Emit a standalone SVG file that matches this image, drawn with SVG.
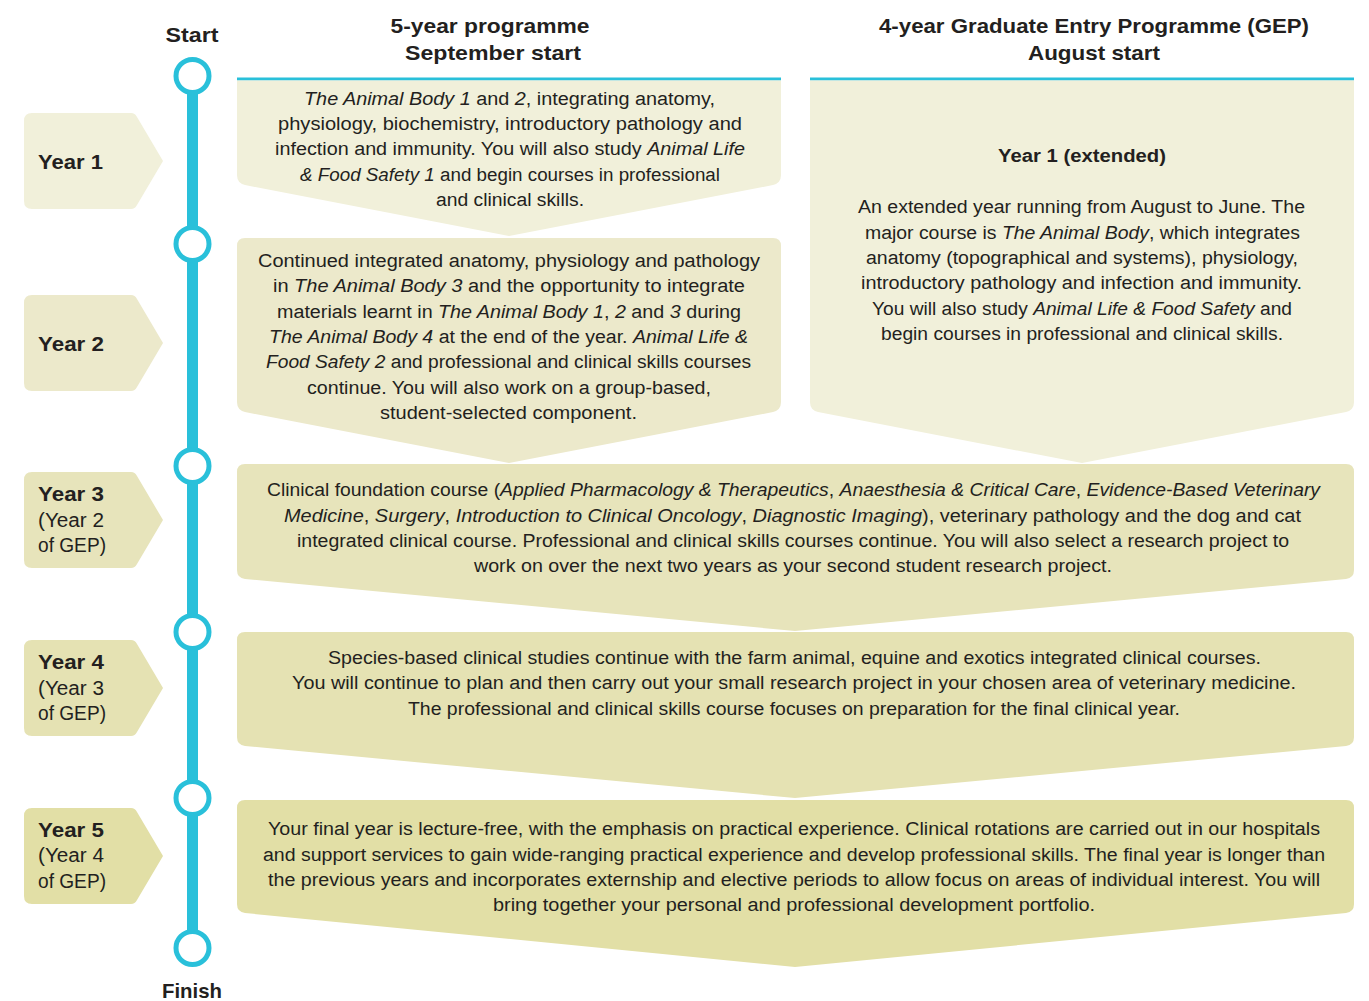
<svg xmlns="http://www.w3.org/2000/svg" width="1369" height="1001" viewBox="0 0 1369 1001">
<style>
text{font-family:"Liberation Sans",Arial,sans-serif;fill:#231f20}
.b{font-size:18px;text-anchor:middle}
.h{font-size:21px;font-weight:bold;text-anchor:middle}
.yl{font-size:20px}
.yb{font-weight:bold}
.i{font-style:italic}
.c{fill:#ffffff;stroke:#29c0da;stroke-width:5}
</style>
<rect width="1369" height="1001" fill="#ffffff"/>
<g id="headers">
<text class="h" x="490" y="33" textLength="199" lengthAdjust="spacingAndGlyphs">5-year programme</text>
<text class="h" x="493" y="60" textLength="176" lengthAdjust="spacingAndGlyphs">September start</text>
<text class="h" x="1094" y="33" textLength="430" lengthAdjust="spacingAndGlyphs">4-year Graduate Entry Programme (GEP)</text>
<text class="h" x="1094" y="60" textLength="132" lengthAdjust="spacingAndGlyphs">August start</text>
<text class="h" x="192" y="42" textLength="53" lengthAdjust="spacingAndGlyphs">Start</text>
<text class="h" x="192" y="998" textLength="60" lengthAdjust="spacingAndGlyphs">Finish</text>
<rect x="237" y="77.5" width="544" height="3" fill="#29c0da"/>
<rect x="810" y="77.5" width="544" height="3" fill="#29c0da"/>
</g>
<g id="timeline">
<rect x="187" y="76" width="11" height="872" fill="#29c0da"/>
<circle class="c" cx="192.5" cy="76" r="16.5"/>
<circle class="c" cx="192.5" cy="244" r="16.5"/>
<circle class="c" cx="192.5" cy="466" r="16.5"/>
<circle class="c" cx="192.5" cy="632" r="16.5"/>
<circle class="c" cx="192.5" cy="798" r="16.5"/>
<circle class="c" cx="192.5" cy="948" r="16.5"/>
</g>
<g id="label-year1">
<path d="M32,113 H131 Q135,113 137,117 L163,161 L137,205 Q135,209 131,209 H32 Q24,209 24,201 V121 Q24,113 32,113 Z" fill="#f1f0da"/>
<text class="yl yb" x="38" y="169" textLength="65" lengthAdjust="spacingAndGlyphs">Year 1</text>
</g>
<g id="label-year2">
<path d="M32,295 H131 Q135,295 137,299 L163,343 L137,387 Q135,391 131,391 H32 Q24,391 24,383 V303 Q24,295 32,295 Z" fill="#ece9cb"/>
<text class="yl yb" x="38" y="351" textLength="66" lengthAdjust="spacingAndGlyphs">Year 2</text>
</g>
<g id="label-year3">
<path d="M32,472 H131 Q135,472 137,476 L163,520 L137,564 Q135,568 131,568 H32 Q24,568 24,560 V480 Q24,472 32,472 Z" fill="#e7e4bb"/>
<text class="yl yb" x="38" y="501" textLength="66" lengthAdjust="spacingAndGlyphs">Year 3</text>
<text class="yl" x="38" y="527" textLength="66" lengthAdjust="spacingAndGlyphs">(Year 2</text>
<text class="yl" x="38" y="552" textLength="68" lengthAdjust="spacingAndGlyphs">of GEP)</text>
</g>
<g id="label-year4">
<path d="M32,640 H131 Q135,640 137,644 L163,688 L137,732 Q135,736 131,736 H32 Q24,736 24,728 V648 Q24,640 32,640 Z" fill="#e5e2b3"/>
<text class="yl yb" x="38" y="669" textLength="66" lengthAdjust="spacingAndGlyphs">Year 4</text>
<text class="yl" x="38" y="695" textLength="66" lengthAdjust="spacingAndGlyphs">(Year 3</text>
<text class="yl" x="38" y="720" textLength="68" lengthAdjust="spacingAndGlyphs">of GEP)</text>
</g>
<g id="label-year5">
<path d="M32,808 H131 Q135,808 137,812 L163,856 L137,900 Q135,904 131,904 H32 Q24,904 24,896 V816 Q24,808 32,808 Z" fill="#e2dfa6"/>
<text class="yl yb" x="38" y="837" textLength="66" lengthAdjust="spacingAndGlyphs">Year 5</text>
<text class="yl" x="38" y="862" textLength="66" lengthAdjust="spacingAndGlyphs">(Year 4</text>
<text class="yl" x="38" y="888" textLength="68" lengthAdjust="spacingAndGlyphs">of GEP)</text>
</g>
<g id="box-year1">
<path d="M237,80.5 H781 V175 Q781,183 773,185 L509,236 L245,185 Q237,183 237,175 Z" fill="#f1f0da"/>
<text class="b" x="509.5" y="105" textLength="411" lengthAdjust="spacingAndGlyphs"><tspan class="i">The Animal Body 1</tspan> and <tspan class="i">2</tspan>, integrating anatomy,</text>
<text class="b" x="510" y="130" textLength="464" lengthAdjust="spacingAndGlyphs">physiology, biochemistry, introductory pathology and</text>
<text class="b" x="510" y="155" textLength="470" lengthAdjust="spacingAndGlyphs">infection and immunity. You will also study <tspan class="i">Animal Life</tspan></text>
<text class="b" x="510" y="181" textLength="420" lengthAdjust="spacingAndGlyphs"><tspan class="i">&amp; Food Safety 1</tspan> and begin courses in professional</text>
<text class="b" x="510" y="206" textLength="148" lengthAdjust="spacingAndGlyphs">and clinical skills.</text>
</g>
<g id="box-year2">
<path d="M245,238 H773 Q781,238 781,246 V402 Q781,410 773,412 L509,463 L245,412 Q237,410 237,402 V246 Q237,238 245,238 Z" fill="#ece9cb"/>
<text class="b" x="509" y="267" textLength="502" lengthAdjust="spacingAndGlyphs">Continued integrated anatomy, physiology and pathology</text>
<text class="b" x="509" y="292" textLength="472" lengthAdjust="spacingAndGlyphs">in <tspan class="i">The Animal Body 3</tspan> and the opportunity to integrate</text>
<text class="b" x="509" y="318" textLength="464" lengthAdjust="spacingAndGlyphs">materials learnt in <tspan class="i">The Animal Body 1</tspan>, <tspan class="i">2</tspan> and <tspan class="i">3</tspan> during</text>
<text class="b" x="508.5" y="343" textLength="479" lengthAdjust="spacingAndGlyphs"><tspan class="i">The Animal Body 4</tspan> at the end of the year. <tspan class="i">Animal Life &amp;</tspan></text>
<text class="b" x="508.5" y="368" textLength="485" lengthAdjust="spacingAndGlyphs"><tspan class="i">Food Safety 2</tspan> and professional and clinical skills courses</text>
<text class="b" x="509" y="394" textLength="404" lengthAdjust="spacingAndGlyphs">continue. You will also work on a group-based,</text>
<text class="b" x="508.5" y="419" textLength="257" lengthAdjust="spacingAndGlyphs">student-selected component.</text>
</g>
<g id="box-gep-year1">
<path d="M810,80.5 H1354 V402 Q1354,410 1346,412 L1082,463 L818,412 Q810,410 810,402 Z" fill="#f1f0da"/>
<text class="b" x="1082" y="162" font-weight="bold" textLength="168" lengthAdjust="spacingAndGlyphs">Year 1 (extended)</text>
<text class="b" x="1081.5" y="213" textLength="447" lengthAdjust="spacingAndGlyphs">An extended year running from August to June. The</text>
<text class="b" x="1082.5" y="239" textLength="435" lengthAdjust="spacingAndGlyphs">major course is <tspan class="i">The Animal Body</tspan>, which integrates</text>
<text class="b" x="1082" y="264" textLength="432" lengthAdjust="spacingAndGlyphs">anatomy (topographical and systems), physiology,</text>
<text class="b" x="1081.5" y="289" textLength="441" lengthAdjust="spacingAndGlyphs">introductory pathology and infection and immunity.</text>
<text class="b" x="1082" y="315" textLength="420" lengthAdjust="spacingAndGlyphs">You will also study <tspan class="i">Animal Life &amp; Food Safety</tspan> and</text>
<text class="b" x="1082" y="340" textLength="402" lengthAdjust="spacingAndGlyphs">begin courses in professional and clinical skills.</text>
</g>
<g id="box-year3">
<path d="M245,464 H1346 Q1354,464 1354,472 V570 Q1354,578 1346,579 L795,631 L245,579 Q237,578 237,570 V472 Q237,464 245,464 Z" fill="#e7e4bb"/>
<text class="b" x="793.5" y="496" textLength="1053" lengthAdjust="spacingAndGlyphs">Clinical foundation course (<tspan class="i">Applied Pharmacology &amp; Therapeutics</tspan>, <tspan class="i">Anaesthesia &amp; Critical Care</tspan>, <tspan class="i">Evidence-Based Veterinary</tspan></text>
<text class="b" x="792.5" y="522" textLength="1017" lengthAdjust="spacingAndGlyphs"><tspan class="i">Medicine</tspan>, <tspan class="i">Surgery</tspan>, <tspan class="i">Introduction to Clinical Oncology</tspan>, <tspan class="i">Diagnostic Imaging</tspan>), veterinary pathology and the dog and cat</text>
<text class="b" x="793" y="547" textLength="992" lengthAdjust="spacingAndGlyphs">integrated clinical course. Professional and clinical skills courses continue. You will also select a research project to</text>
<text class="b" x="793" y="572" textLength="638" lengthAdjust="spacingAndGlyphs">work on over the next two years as your second student research project.</text>
</g>
<g id="box-year4">
<path d="M245,632 H1346 Q1354,632 1354,640 V737 Q1354,745 1346,746 L795,798 L245,746 Q237,745 237,737 V640 Q237,632 245,632 Z" fill="#e5e2b3"/>
<text class="b" x="794.5" y="664" textLength="933" lengthAdjust="spacingAndGlyphs">Species-based clinical studies continue with the farm animal, equine and exotics integrated clinical courses.</text>
<text class="b" x="794" y="689" textLength="1004" lengthAdjust="spacingAndGlyphs">You will continue to plan and then carry out your small research project in your chosen area of veterinary medicine.</text>
<text class="b" x="794" y="715" textLength="772" lengthAdjust="spacingAndGlyphs">The professional and clinical skills course focuses on preparation for the final clinical year.</text>
</g>
<g id="box-year5">
<path d="M245,800 H1346 Q1354,800 1354,808 V904 Q1354,912 1346,913 L795,967 L245,913 Q237,912 237,904 V808 Q237,800 245,800 Z" fill="#e2dfa6"/>
<text class="b" x="794" y="835" textLength="1052" lengthAdjust="spacingAndGlyphs">Your final year is lecture-free, with the emphasis on practical experience. Clinical rotations are carried out in our hospitals</text>
<text class="b" x="794" y="861" textLength="1062" lengthAdjust="spacingAndGlyphs">and support services to gain wide-ranging practical experience and develop professional skills. The final year is longer than</text>
<text class="b" x="794" y="886" textLength="1052" lengthAdjust="spacingAndGlyphs">the previous years and incorporates externship and elective periods to allow focus on areas of individual interest. You will</text>
<text class="b" x="794" y="911" textLength="602" lengthAdjust="spacingAndGlyphs">bring together your personal and professional development portfolio.</text>
</g>
</svg>
